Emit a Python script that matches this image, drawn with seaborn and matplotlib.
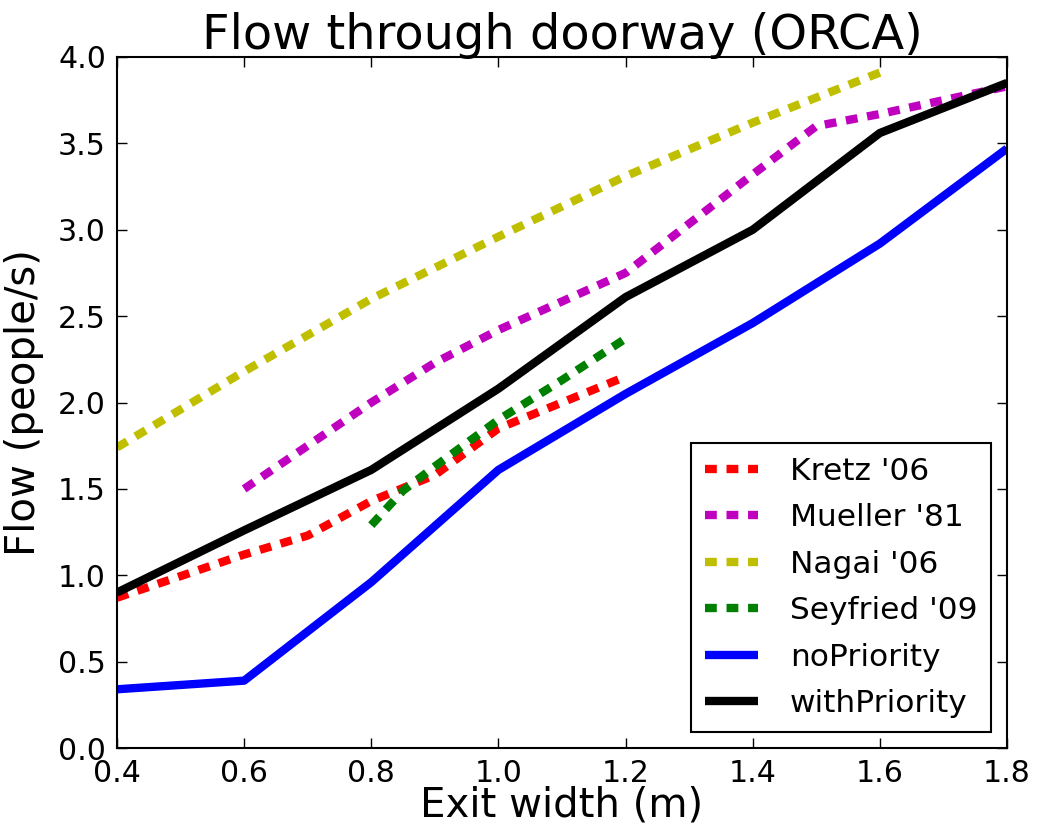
import matplotlib
matplotlib.use("Agg")
import matplotlib.pyplot as plt
import seaborn as sns

# Data
kretz_x = [0.4, 0.6, 0.7, 0.8, 0.9, 1.0, 1.2]
kretz_y = [0.87, 1.12, 1.23, 1.43, 1.58, 1.85, 2.15]

mueller_x = [0.6, 0.8, 0.9, 1.0, 1.2, 1.4, 1.5, 1.6, 1.8]
mueller_y = [1.50, 2.00, 2.23, 2.42, 2.75, 3.32, 3.60, 3.67, 3.83]

nagai_x = [0.4, 0.6, 0.8, 1.0, 1.2, 1.4, 1.6]
nagai_y = [1.74, 2.18, 2.60, 2.96, 3.31, 3.62, 3.91]

seyfried_x = [0.8, 0.85, 0.9, 1.0, 1.1, 1.2]
seyfried_y = [1.29, 1.49, 1.63, 1.90, 2.13, 2.37]

widths = [0.4, 0.6, 0.8, 1.0, 1.2, 1.4, 1.6, 1.8]
no_priority = [0.34, 0.39, 0.96, 1.61, 2.05, 2.46, 2.92, 3.47]
with_priority = [0.90, 1.26, 1.61, 2.08, 2.61, 3.00, 3.56, 3.85]

xticks = [0.4, 0.6, 0.8, 1.0, 1.2, 1.4, 1.6, 1.8]
yticks = [0.0, 0.5, 1.0, 1.5, 2.0, 2.5, 3.0, 3.5, 4.0]

sns.set_style("ticks")
plt.rcParams["font.family"] = ["DejaVu Sans"]
plt.rcParams["lines.scale_dashes"] = False
plt.rcParams["lines.solid_capstyle"] = "butt"
plt.rcParams["text.color"] = "black"
plt.rcParams["axes.labelcolor"] = "black"
plt.rcParams["xtick.color"] = "black"
plt.rcParams["ytick.color"] = "black"

fig = plt.figure(figsize=(10.39, 8.26), dpi=100)
ax = fig.add_axes([0.1126, 0.0944, 0.8566, 0.8366])

lw = 6.0
dash = (0, (8.5, 7.0))
sns.lineplot(x=kretz_x, y=kretz_y, ax=ax, color="#ff0000", linewidth=lw,
             linestyle=dash, label="Kretz '06")
sns.lineplot(x=mueller_x, y=mueller_y, ax=ax, color="#bf00bf", linewidth=lw,
             linestyle=dash, label="Mueller '81")
sns.lineplot(x=nagai_x, y=nagai_y, ax=ax, color="#bfbf00", linewidth=lw,
             linestyle=dash, label="Nagai '06")
sns.lineplot(x=seyfried_x, y=seyfried_y, ax=ax, color="#008000", linewidth=lw,
             linestyle=dash, label="Seyfried '09")
sns.lineplot(x=widths, y=no_priority, ax=ax, color="#0000ff", linewidth=lw,
             label="noPriority")
sns.lineplot(x=widths, y=with_priority, ax=ax, color="#000000", linewidth=lw,
             label="withPriority")

ax.set_xlim(0.4, 1.8)
ax.set_ylim(0.0, 4.0)
ax.set_xticks(xticks)
ax.set_yticks(yticks)
ax.set_xticklabels([f"{v:.1f}" for v in xticks])
ax.set_yticklabels([f"{v:.1f}" for v in yticks])
ax.tick_params(direction="in", length=7, width=1, labelsize=21.6,
               top=True, right=True, pad=8, colors="black")
for s in ax.spines.values():
    s.set_visible(True)
    s.set_linewidth(1.5)
    s.set_color("black")

ax.set_title("Flow through doorway (ORCA)", fontsize=34.5, pad=6)
ax.set_xlabel("Exit width (m)", fontsize=29, labelpad=-2)
ax.set_ylabel("Flow (people/s)", fontsize=29, labelpad=10)

leg = ax.legend(loc="lower right", fontsize=22.5, handlelength=1.7,
                handletextpad=1.0, labelspacing=0.56, borderpad=0.45,
                borderaxespad=0.5, fancybox=False, framealpha=1)
leg.get_frame().set_edgecolor("black")
leg.get_frame().set_linewidth(1.5)
for t in leg.get_texts():
    t.set_color("black")

fig.savefig("out.png", dpi=100)
